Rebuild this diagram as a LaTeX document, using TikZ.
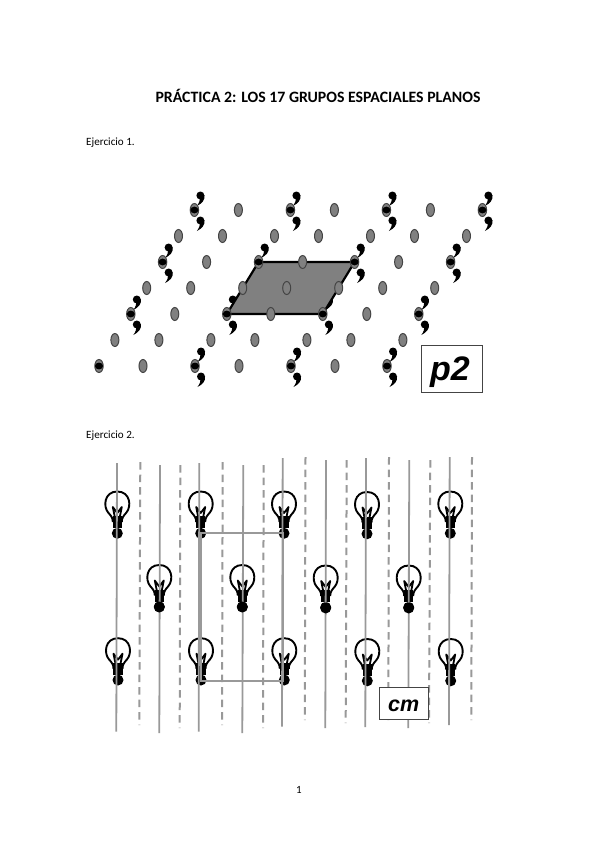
\documentclass[tikz,border=0pt]{standalone}
\usepackage{fontspec}
\setmainfont{Carlito}
\newfontfamily\labelfont{Liberation Sans}
\usepackage{xcolor}
\definecolor{cellgray}{HTML}{808080}
\definecolor{linegray}{HTML}{999999}
\definecolor{edgegray}{HTML}{444444}

\begin{document}
\begin{tikzpicture}[
	x=1pt, y=-1pt,
	heading/.style={font=\bfseries\fontsize{15.8}{18}\selectfont, inner sep=0pt},
	exercise/.style={font=\fontsize{11.1}{13}\selectfont, anchor=west, inner sep=0pt},
	groupbox/.style={draw=edgegray, fill=white, line width=1pt, rectangle, inner sep=0pt},
	motif/.style={fill=cellgray, draw=edgegray, line width=1pt},
	solidline/.style={linegray, line width=1.8pt},
	dashline/.style={linegray, line width=2pt, dash pattern=on 7.5pt off 5pt},
	comma/.pic={
		\fill (0,0) circle (4);
		\fill (4,-0.5) .. controls (5,4.5) and (1.5,8) .. (-3.5,10.5) .. controls (-1,7) and (-0.5,5) .. (-0.5,3) -- cycle;
	},
	bulb/.pic={
		\draw[line width=1.9pt] (-4.5,18) .. controls (-4.5,14) and (-6,12) .. (-9,8.7)
			.. controls (-14.5,2.5) and (-13,-12.5) .. (0,-12.5)
			.. controls (13,-12.5) and (14.5,2.5) .. (9,8.7)
			.. controls (6,12) and (4.5,14) .. (4.5,18);
		\draw[line width=1.8pt, line join=round] (-2.5,13) -- (-4.5,3) -- (0,9) -- (4.5,3) -- (2.5,13);
		\fill (-4.7,12) rectangle (4.7,24);
	},
	]
	\useasboundingbox (0,0) rectangle (599,848);
	\fill[white] (0,0) rectangle (599,848);
	\def\latx{96}
	\def\skewx{31.8}
	\def\laty{52}
	\node[heading] (title) at (318,95.5) {PRÁCTICA 2: LOS 17 GRUPOS ESPACIALES PLANOS};
	\node[exercise] (ej1) at (86,142.5) {Ejercicio 1.};
	\node[exercise] (ej2) at (86,435.5) {Ejercicio 2.};
	\node[font=\fontsize{11}{13}\selectfont, inner sep=0pt] (page) at (299,790) {1};
	% first pattern
	\foreach \i in {0,...,3}
		\foreach \j in {0,...,3}
			\coordinate (p-\i-\j) at ({99+\latx*\i+\skewx*\j},{366-\laty*\j});
	\foreach \i in {0,...,3}
		\foreach \j in {0,...,3} {
			\ifnum\numexpr\i+\j\relax>0
				\pic at ([shift={(6,-14.5)}]p-\i-\j) {comma};
				\pic at ([shift={(6,10.5)}]p-\i-\j) {comma};
			\fi
		}
	\draw[fill=cellgray, line width=2.2pt, line join=round] (p-1-2) -- (p-2-2) -- (p-2-1) -- (p-1-1) -- cycle;
	\foreach \i in {0,1,2}
		\foreach \j in {0,...,3}
			\draw[motif] ([xshift=44]p-\i-\j) ellipse (4 and 6.5);
	\foreach \i in {0,...,3}
		\foreach \j in {0,1,2}
			\draw[motif] ([shift={(15.9,-26)}]p-\i-\j) ellipse (4 and 6.5);
	\foreach \i in {0,1,2}
		\foreach \j in {0,1,2}
			\draw[motif] ([shift={(59.9,-26)}]p-\i-\j) ellipse (4 and 6.5);
	\foreach \i in {0,...,3}
		\foreach \j in {0,...,3} {
			\draw[motif] (p-\i-\j) ellipse (4.2 and 6.5);
			\fill (p-\i-\j) ellipse (4 and 3.4);
		}
	\node[groupbox, minimum width=61pt, minimum height=47pt, font=\labelfont\bfseries\itshape\fontsize{34}{36}\selectfont] (ptwo) at (451.5,368.5) {\raisebox{-11.5pt}[0pt][0pt]{\kern-3pt p2}};
	% second pattern
	\foreach \x/\y in {117.3/504,200.7/504,284/504,367/504.5,450.3/504,
		159.3/577.5,242.3/577.5,325.7/578,408.7/578,
		118/650.7,201/650.7,284.3/650.7,367.3/651.5,450.7/651.5} {
		\pic at (\x,\y) {bulb};
		\fill (\x,\y+29.3) circle (5.5);
	}
	\foreach \xa/\ya/\xb/\yb in {117/463/116.3/731.7, 160/465/159.3/733, 199.3/463/198.7/731.7,
		243.3/465/242.3/733, 282.7/458/282/726.7, 326/460/325.3/728,
		366/458/365.3/727, 409.3/460/408.3/728, 449.7/457/449/725}
		\draw[solidline] (\xa,\ya) -- (\xb,\yb);
	\foreach \xa/\ya/\xb/\yb in {140.3/462/139.3/725, 180.3/465/179.7/728, 222.7/462/222/725,
		263.7/465/263/728, 305.5/457/304.8/720, 346.7/460/345.7/723,
		389/457/388.3/720, 430.3/460/429/723, 472/457/471.3/720}
		\draw[dashline] (\xa,\ya) -- (\xb,\yb);
	\foreach \x/\y in {159.3/607,242.3/607,325.7/608,408.7/608}
		\fill (\x,\y) circle (5.5);
	\coordinate (c-tl) at (200.7,532.7);
	\coordinate (c-tr) at (282.7,532.7);
	\coordinate (c-br) at (282.7,680.9);
	\coordinate (c-bl) at (200.7,680.9);
	\draw[linegray, line width=2.2pt] (c-tl) -- (c-tr) -- (c-br) -- (c-bl) -- cycle;
	\node[groupbox, minimum width=49pt, minimum height=32.5pt, font=\labelfont\bfseries\itshape\fontsize{21.5}{23}\selectfont] (cmbox) at (403.7,703.7) {\raisebox{-8pt}[0pt][0pt]{cm}};
\end{tikzpicture}
\end{document}
